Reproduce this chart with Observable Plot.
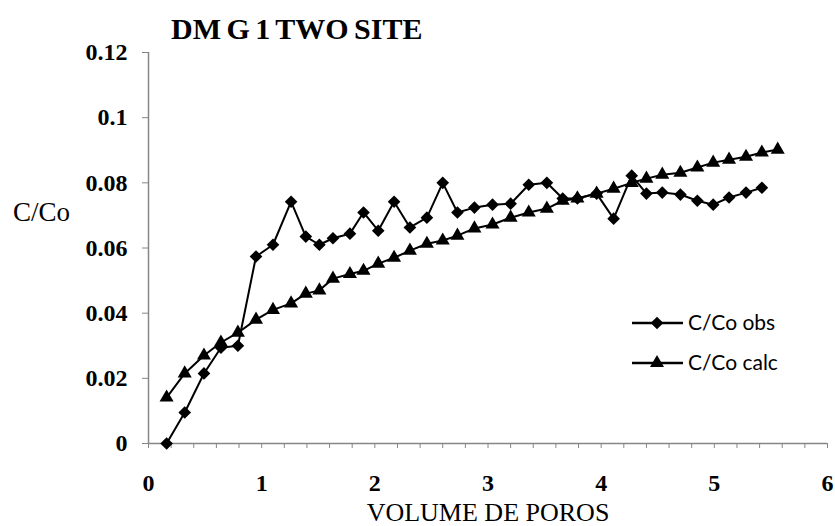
<!DOCTYPE html>
<html><head><meta charset="utf-8">
<script src="https://cdn.jsdelivr.net/npm/d3@7"></script>
<script src="https://cdn.jsdelivr.net/npm/@observablehq/plot@0.6"></script>
<style>
body{margin:0;background:#fff;}
#wrap{position:relative;width:835px;height:526px;overflow:hidden;background:#fff;}
#wrap svg{position:absolute;left:0;top:0;}
</style></head><body><div id="wrap"></div>
<script>
// Pore volumes (x) shared by both series
const volume = [0.16,0.32,0.49,0.64,0.79,0.95,1.10,1.26,1.39,1.51,1.63,1.78,1.90,2.03,2.17,2.31,2.46,2.60,2.73,2.88,3.04,3.20,3.36,3.52,3.66,3.79,3.96,4.11,4.27,4.40,4.54,4.70,4.85,4.99,5.13,5.28,5.42,5.56];
// C/Co observed
const obs = [0,0.0095,0.0215,0.0294,0.030,0.0574,0.061,0.0742,0.0635,0.061,0.063,0.0644,0.0709,0.0653,0.0742,0.0663,0.0693,0.080,0.0709,0.0724,0.0733,0.0736,0.0794,0.080,0.0752,0.0752,0.0767,0.069,0.0822,0.0767,0.077,0.0764,0.0745,0.0733,0.0755,0.077,0.0785];
// C/Co calculated
const calc = [0.0141,0.0215,0.027,0.031,0.034,0.038,0.041,0.043,0.046,0.047,0.0506,0.052,0.053,0.0552,0.057,0.0592,0.0613,0.0623,0.0638,0.066,0.0672,0.0693,0.0709,0.0721,0.0745,0.0752,0.0767,0.0782,0.080,0.0813,0.0825,0.0831,0.0847,0.0862,0.0871,0.088,0.0893,0.0902];
const xTicks = [0,1,2,3,4,5,6];
const yTicks = [0,0.02,0.04,0.06,0.08,0.1,0.12];
const titleText = "DM G 1 TWO SITE";
const xLabel = "VOLUME DE POROS";
const yLabel = "C/Co";
const seriesNames = ["C/Co obs","C/Co calc"];

const obsData = obs.map((c,i)=>({v:volume[i], c}));
const calcData = calc.map((c,i)=>({v:volume[i], c}));
const xMinor = d3.range(0,31).map(i=>i/5);

const chart = Plot.plot({
  width:835, height:526,
  marginLeft:148, marginRight:8, marginTop:52, marginBottom:83,
  x:{domain:[0,6]},
  y:{domain:[0,0.12]},
  style:{fontFamily:'"Liberation Serif", serif', fontSize:"24px", fontWeight:"bold", background:"white", color:"black"},
  marks:[
    Plot.axisY({ticks:yTicks, tickSize:6, tickPadding:15, stroke:"#868686", label:null, tickFormat:d=>String(+d.toFixed(2))}),
    Plot.axisX({ticks:xMinor, tickSize:5, tickFormat:()=>"", stroke:"#868686", label:null}),
    Plot.axisX({ticks:xTicks, tickSize:0, tickPadding:30, label:null, tickFormat:d=>String(d)}),
    Plot.ruleX([0], {stroke:"#868686", strokeWidth:1.5}),
    Plot.ruleY([0], {stroke:"#868686", strokeWidth:1.5}),
    Plot.line(calcData, {x:"v", y:"c", stroke:"black", strokeWidth:2}),
    Plot.dot(calcData, {x:"v", y:"c", symbol:"triangle2", r:6.7, fill:"black"}),
    Plot.line(obsData, {x:"v", y:"c", stroke:"black", strokeWidth:2}),
    Plot.dot(obsData, {x:"v", y:"c", symbol:"diamond2", r:5.7, fill:"black"})
  ]
});
const wrap = document.getElementById("wrap");
wrap.appendChild(chart);

// Overlay for title, axis labels and legend
const ov = d3.select(wrap).append("svg").attr("width",835).attr("height",526).style("pointer-events","none");
ov.append("text").attr("x",171).attr("y",39).attr("font-family",'"Liberation Serif", serif').attr("font-weight","bold").attr("font-size",30).attr("word-spacing",-2).text(titleText);
ov.append("text").attr("x",13).attr("y",221).attr("font-family",'"Liberation Serif", serif').attr("font-size",27).text(yLabel);
ov.append("text").attr("x",488).attr("y",521).attr("text-anchor","middle").attr("font-family",'"Liberation Serif", serif').attr("font-size",26).text(xLabel);
const sym = [d3.symbol(d3.symbolDiamond2, Math.PI*5.7*5.7), d3.symbol(d3.symbolTriangle2, Math.PI*6.7*6.7)];
const rowsY = [323, 363];
seriesNames.forEach((name,i)=>{
  const g = ov.append("g");
  g.append("line").attr("x1",632).attr("x2",683).attr("y1",rowsY[i]).attr("y2",rowsY[i]).attr("stroke","black").attr("stroke-width",2.5);
  g.append("path").attr("d",sym[i]()).attr("transform",`translate(657,${rowsY[i]})`).attr("fill","black");
  g.append("text").attr("x",688).attr("y",rowsY[i]+7).attr("font-family","Lato, sans-serif").attr("font-size",21).text(name);
});
</script>
</body></html>
